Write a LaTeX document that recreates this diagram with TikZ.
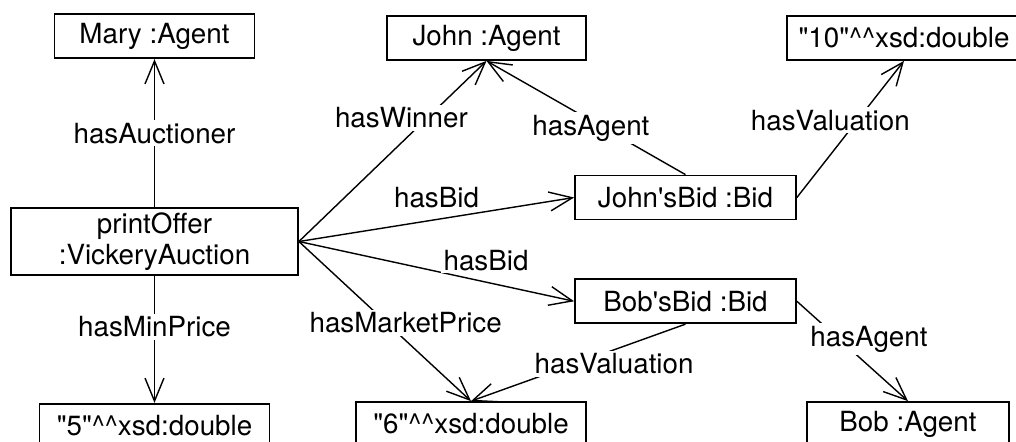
\documentclass[tikz,border=0pt]{standalone}
\usepackage{fontspec}
\setmainfont{TeX Gyre Heros}[Ligatures=TeXOff]
\usepackage{tikz}
\usetikzlibrary{arrows.meta, positioning}
\newcommand{\xsdval}[1]{"#1"\textasciicircum\textasciicircum{}xsd:double}

\begin{document}
\begin{tikzpicture}[
    box/.style={draw, line width=1pt, minimum height=0.88cm, inner sep=0pt, align=center},
    arrow/.style={-{Straight Barb[length=4.6mm, width=3.8mm]}, line width=0.8pt},
    lbl/.style={fill=white, inner sep=1.5pt},
    font=\fontsize{15.8}{17.6}\selectfont
]
    \useasboundingbox (0,0) rectangle (20.32,-8.82);
    \clip (0,0) rectangle (20.32,-8.82);

    \node[box, minimum width=5.74cm, minimum height=1.34cm] (offer) at (3.09,-4.83) {printOffer\\:VickeryAuction};
    \node[box, minimum width=4cm, above=2.96cm of offer] (mary) {Mary :Agent};
    \node[box, minimum width=4.6cm, below=2.54cm of offer] (five) {\xsdval{5}};
    \node[box, minimum width=3.98cm] (john) at (9.73,-0.76) {John :Agent};
    \node[box, minimum width=4.68cm] (ten) at (18.08,-0.76) {\xsdval{10}};
    \node[box, minimum width=4.42cm] (johnbid) at (13.71,-3.95) {John'sBid :Bid};
    \node[box, minimum width=4.42cm, below=1.16cm of johnbid] (bobbid) {Bob'sBid :Bid};
    \node[box, minimum width=4.6cm] (six) at (9.42,-8.48) {\xsdval{6}};
    \node[box, minimum width=4.04cm] (bob) at (18.16,-8.48) {Bob :Agent};

    \draw[arrow] (offer) -- node[lbl] {hasAuctioner} (mary);
    \draw[arrow] (offer) -- node[lbl, pos=0.4] {hasMinPrice} (five);
    \draw[arrow] (offer.east) -- node[lbl, pos=0.685, xshift=-0.52cm] {hasWinner} (john.south);
    \draw[arrow] (offer.east) -- node[lbl, pos=0.5, yshift=0.44cm] {hasBid} (johnbid.west);
    \draw[arrow] (offer.east) -- node[lbl, pos=0.68, yshift=0.44cm] {hasBid} (bobbid.west);
    \draw[arrow] (offer.east) -- node[lbl, pos=0.51, xshift=0.38cm] {hasMarketPrice} (six.north);
    \draw[arrow] (johnbid.north) -- node[lbl, pos=0.41, xshift=-0.26cm] {hasAgent} (john.south);
    \draw[arrow] (johnbid.east) -- node[lbl, pos=0.564, xshift=-0.54cm] {hasValuation} (ten.south);
    \draw[arrow] (bobbid.south) -- node[lbl, pos=0.333, yshift=-0.28cm] {hasValuation} (six.north);
    \draw[arrow] (bobbid.east) -- node[lbl, pos=0.379, xshift=0.6cm] {hasAgent} (bob.north);
\end{tikzpicture}
\end{document}
